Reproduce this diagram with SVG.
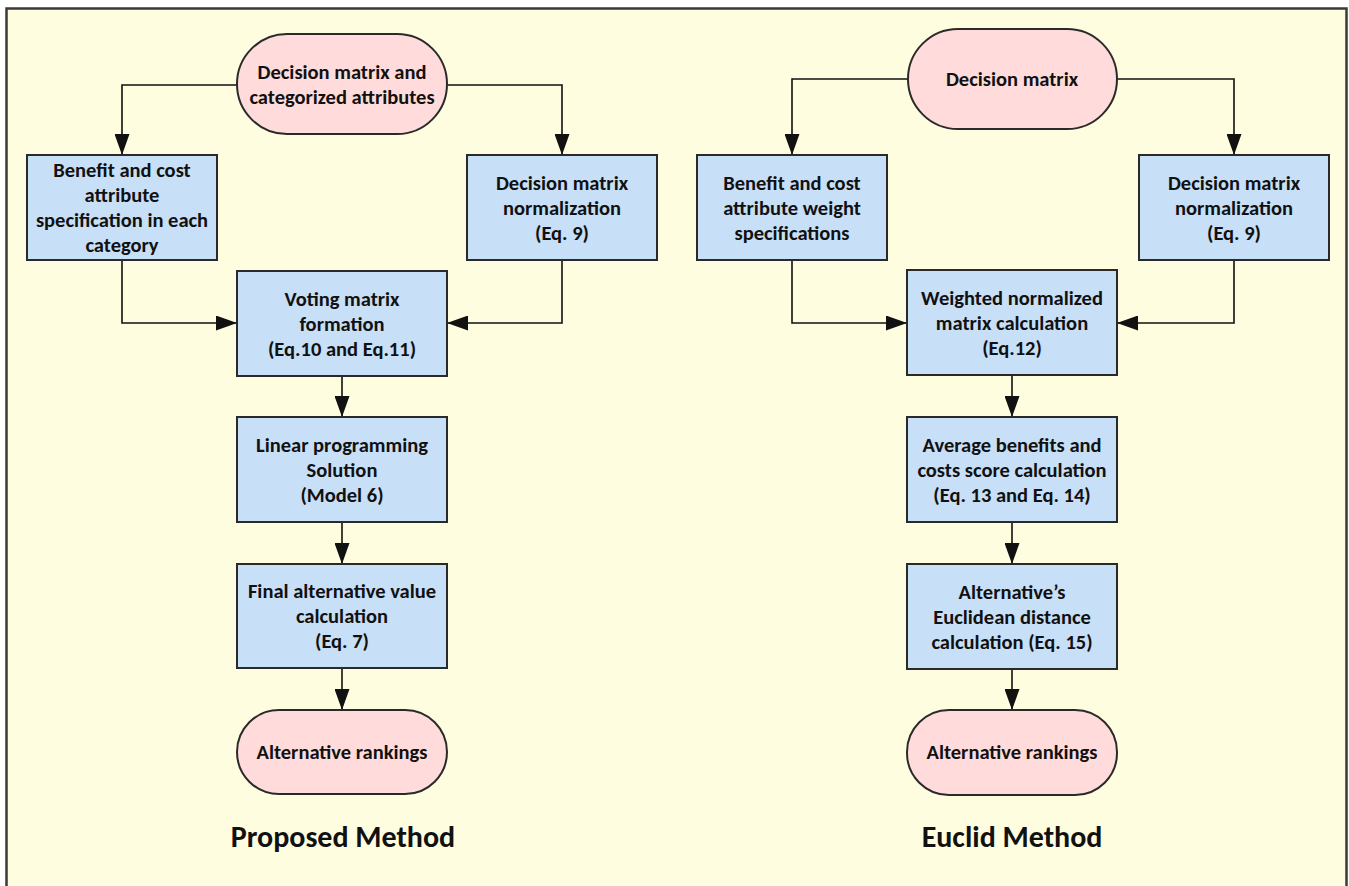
<svg xmlns="http://www.w3.org/2000/svg" width="1349" height="886" viewBox="0 0 1349 886">
  <style>
    .frame { fill: #FFFDDF; stroke: #3a3a3a; stroke-width: 2.5; }
    .term { fill: #FFDCDB; stroke: #2a2a2a; stroke-width: 2; }
    .proc { fill: #C8DFF8; stroke: #2a2a2a; stroke-width: 2; }
    .lbl { font-family: Carlito, Lato, "Open Sans", sans-serif; font-weight: bold; font-size: 20.5px; fill: #111; text-anchor: middle; }
    .title { font-family: Carlito, Lato, "Open Sans", sans-serif; font-weight: bold; font-size: 30px; fill: #111; text-anchor: middle; }
    .conn { fill: none; stroke: #111; stroke-width: 1.6; }
  </style>
  <defs>
    <marker id="arr" markerUnits="userSpaceOnUse" markerWidth="21" markerHeight="15" refX="21" refY="7.5" orient="auto">
      <path d="M0,0 L21,7.5 L0,15 Z" fill="#111"/>
    </marker>
  </defs>
  <rect width="1349" height="886" fill="#ffffff"/>
  <rect class="frame" x="6.5" y="8.5" width="1340" height="890"/>

  <g id="connectors">
    <path class="conn" d="M237,85 H122 V155" marker-end="url(#arr)"/>
    <path class="conn" d="M447,85 H562 V155" marker-end="url(#arr)"/>
    <path class="conn" d="M122,260 V323 H237" marker-end="url(#arr)"/>
    <path class="conn" d="M562,260 V323 H447" marker-end="url(#arr)"/>
    <path class="conn" d="M342,376 V417" marker-end="url(#arr)"/>
    <path class="conn" d="M342,522 V564" marker-end="url(#arr)"/>
    <path class="conn" d="M342,668 V710" marker-end="url(#arr)"/>

    <path class="conn" d="M908,79 H792 V155" marker-end="url(#arr)"/>
    <path class="conn" d="M1117,79 H1234 V155" marker-end="url(#arr)"/>
    <path class="conn" d="M792,260 V323 H907" marker-end="url(#arr)"/>
    <path class="conn" d="M1234,260 V323 H1117" marker-end="url(#arr)"/>
    <path class="conn" d="M1012,375 V417" marker-end="url(#arr)"/>
    <path class="conn" d="M1012,522 V564" marker-end="url(#arr)"/>
    <path class="conn" d="M1012,669 V710" marker-end="url(#arr)"/>
  </g>

  <!-- Proposed method -->
  <g id="p_start">
    <rect class="term" x="237" y="34" width="210" height="100" rx="50" ry="50"/>
    <text class="lbl" x="342" y="78.5">Decision matrix and</text>
    <text class="lbl" x="342" y="103.5">categorized attributes</text>
  </g>
  <g id="p_benefit">
    <rect class="proc" x="27" y="155" width="190" height="105"/>
    <text class="lbl" x="122" y="177">Benefit and cost</text>
    <text class="lbl" x="122" y="202">attribute</text>
    <text class="lbl" x="122" y="227">specification in each</text>
    <text class="lbl" x="122" y="252">category</text>
  </g>
  <g id="p_norm">
    <rect class="proc" x="467" y="155" width="190" height="105"/>
    <text class="lbl" x="562" y="189.5">Decision matrix</text>
    <text class="lbl" x="562" y="214.5">normalization</text>
    <text class="lbl" x="562" y="239.5">(Eq. 9)</text>
  </g>
  <g id="p_voting">
    <rect class="proc" x="237" y="271" width="210" height="105"/>
    <text class="lbl" x="342" y="305.5">Voting matrix</text>
    <text class="lbl" x="342" y="330.5">formation</text>
    <text class="lbl" x="342" y="355.5">(Eq.10 and  Eq.11)</text>
  </g>
  <g id="p_lp">
    <rect class="proc" x="237" y="417" width="210" height="105"/>
    <text class="lbl" x="342" y="451.5">Linear programming</text>
    <text class="lbl" x="342" y="476.5">Solution</text>
    <text class="lbl" x="342" y="501.5">(Model 6)</text>
  </g>
  <g id="p_final">
    <rect class="proc" x="237" y="564" width="210" height="104"/>
    <text class="lbl" x="342" y="598">Final alternative value</text>
    <text class="lbl" x="342" y="623">calculation</text>
    <text class="lbl" x="342" y="648">(Eq. 7)</text>
  </g>
  <g id="p_end">
    <rect class="term" x="237" y="710" width="210" height="84" rx="42" ry="42"/>
    <text class="lbl" x="342" y="759">Alternative rankings</text>
  </g>
  <g id="p_title">
    <text class="title" x="343" y="847">Proposed Method</text>
  </g>

  <!-- Euclid method -->
  <g id="e_start">
    <rect class="term" x="908" y="29" width="209" height="100" rx="50" ry="50"/>
    <text class="lbl" x="1012" y="86">Decision matrix</text>
  </g>
  <g id="e_benefit">
    <rect class="proc" x="697" y="155" width="190" height="105"/>
    <text class="lbl" x="792" y="189.5">Benefit and cost</text>
    <text class="lbl" x="792" y="214.5">attribute weight</text>
    <text class="lbl" x="792" y="239.5">specifications</text>
  </g>
  <g id="e_norm">
    <rect class="proc" x="1139" y="155" width="190" height="105"/>
    <text class="lbl" x="1234" y="189.5">Decision matrix</text>
    <text class="lbl" x="1234" y="214.5">normalization</text>
    <text class="lbl" x="1234" y="239.5">(Eq. 9)</text>
  </g>
  <g id="e_weighted">
    <rect class="proc" x="907" y="270" width="210" height="105"/>
    <text class="lbl" x="1012" y="304.5">Weighted normalized</text>
    <text class="lbl" x="1012" y="329.5">matrix calculation</text>
    <text class="lbl" x="1012" y="354.5">(Eq.12)</text>
  </g>
  <g id="e_avg">
    <rect class="proc" x="907" y="417" width="210" height="105"/>
    <text class="lbl" x="1012" y="451.5">Average benefits and</text>
    <text class="lbl" x="1012" y="476.5">costs score calculation</text>
    <text class="lbl" x="1012" y="501.5">(Eq. 13 and Eq. 14)</text>
  </g>
  <g id="e_dist">
    <rect class="proc" x="907" y="564" width="210" height="105"/>
    <text class="lbl" x="1012" y="598.5">Alternative’s</text>
    <text class="lbl" x="1012" y="623.5">Euclidean distance</text>
    <text class="lbl" x="1012" y="648.5">calculation (Eq. 15)</text>
  </g>
  <g id="e_end">
    <rect class="term" x="907" y="710" width="210" height="85" rx="42" ry="42"/>
    <text class="lbl" x="1012" y="759">Alternative rankings</text>
  </g>
  <g id="e_title">
    <text class="title" x="1012" y="847">Euclid Method</text>
  </g>
</svg>
